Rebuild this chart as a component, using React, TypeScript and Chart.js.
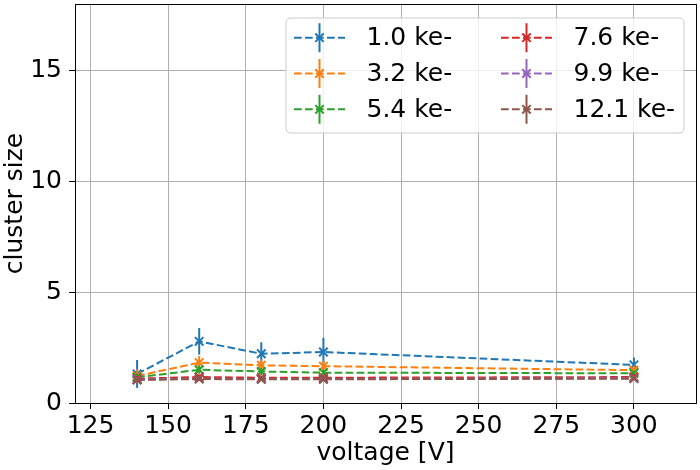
import React, { useEffect, useRef } from "react";
import { Chart, registerables } from "chart.js";

Chart.register(...registerables);

const voltages = [140, 160, 180, 200, 300];
const seriesLabels = ["1.0 ke-", "3.2 ke-", "5.4 ke-", "7.6 ke-", "9.9 ke-", "12.1 ke-"];
const seriesColors = ["#1f77b4", "#ff7f0e", "#2ca02c", "#d62728", "#9467bd", "#8c564b"];

const size10 = [1.31, 2.78, 2.22, 2.3, 1.72];
const size32 = [1.22, 1.82, 1.7, 1.66, 1.48];
const size54 = [1.16, 1.5, 1.42, 1.37, 1.34];
const size76 = [1.1, 1.17, 1.14, 1.14, 1.17];
const size99 = [1.06, 1.1, 1.08, 1.08, 1.12];
const size121 = [1.04, 1.08, 1.07, 1.07, 1.1];

const err10 = [0.63, 0.6, 0.52, 0.64, 0.33];
const err32 = [0.3, 0.3, 0.26, 0.25, 0.2];
const err54 = [0.18, 0.18, 0.16, 0.15, 0.12];
const err76 = [0.12, 0.12, 0.1, 0.1, 0.1];
const err99 = [0.08, 0.08, 0.08, 0.08, 0.08];
const err121 = [0.07, 0.07, 0.07, 0.07, 0.07];

const seriesValues = [size10, size32, size54, size76, size99, size121];
const seriesErrors = [err10, err32, err54, err76, err99, err121];

const xTicks = [125, 150, 175, 200, 225, 250, 275, 300];
const yTicks = [0, 5, 10, 15];
const xLimits = [120, 320];
const yLimits = [0, 18];

const FONT = "'DejaVu Sans', sans-serif";
const FS = 25;
const DASH = [7.7, 3.3];

const errorBarPlugin = {
  id: "errorBars",
  afterDatasetDraw(chart: any, args: any) {
    const idx = args.index;
    const meta = args.meta;
    const ctx = chart.ctx;
    const yScale = chart.scales.y;
    const vals = seriesValues[idx];
    const errs = seriesErrors[idx];
    ctx.save();
    ctx.strokeStyle = seriesColors[idx];
    ctx.lineWidth = 2;
    ctx.setLineDash([]);
    meta.data.forEach((pt: any, i: number) => {
      const y1 = yScale.getPixelForValue(vals[i] + errs[i]);
      const y2 = yScale.getPixelForValue(vals[i] - errs[i]);
      ctx.beginPath();
      ctx.moveTo(pt.x, y1);
      ctx.lineTo(pt.x, y2);
      ctx.stroke();
    });
    ctx.restore();
  },
};

const framePlugin = {
  id: "frameAndLegend",
  afterDraw(chart: any) {
    const ctx = chart.ctx;
    const a = chart.chartArea;
    ctx.save();
    ctx.strokeStyle = "#000";
    ctx.lineWidth = 1;
    ctx.setLineDash([]);
    ctx.strokeRect(Math.round(a.left) + 0.5, Math.round(a.top) + 0.5, Math.round(a.right - a.left), Math.round(a.bottom - a.top));

    // legend
    const bx = 286, by = 18, bw = 398, bh = 115, r = 5;
    ctx.beginPath();
    ctx.moveTo(bx + r, by);
    ctx.lineTo(bx + bw - r, by);
    ctx.quadraticCurveTo(bx + bw, by, bx + bw, by + r);
    ctx.lineTo(bx + bw, by + bh - r);
    ctx.quadraticCurveTo(bx + bw, by + bh, bx + bw - r, by + bh);
    ctx.lineTo(bx + r, by + bh);
    ctx.quadraticCurveTo(bx, by + bh, bx, by + bh - r);
    ctx.lineTo(bx, by + r);
    ctx.quadraticCurveTo(bx, by, bx + r, by);
    ctx.closePath();
    ctx.fillStyle = "rgba(255,255,255,0.8)";
    ctx.fill();
    ctx.strokeStyle = "#cccccc";
    ctx.stroke();

    const colX = [294, 501];
    const rowY = [37.7, 73.5, 109.3];
    ctx.font = FS + "px " + FONT;
    ctx.textBaseline = "middle";
    ctx.textAlign = "left";
    seriesLabels.forEach((label, i) => {
      const col = Math.floor(i / 3);
      const row = i % 3;
      const x0 = colX[col];
      const y = rowY[row];
      const color = seriesColors[i];
      ctx.strokeStyle = color;
      ctx.lineWidth = 2;
      ctx.setLineDash(DASH);
      ctx.beginPath();
      ctx.moveTo(x0, y);
      ctx.lineTo(x0 + 51, y);
      ctx.stroke();
      ctx.setLineDash([]);
      const mx = x0 + 25.5;
      ctx.beginPath();
      ctx.moveTo(mx, y - 14.5);
      ctx.lineTo(mx, y + 14.5);
      ctx.stroke();
      const m = 4.2;
      ctx.beginPath();
      ctx.moveTo(mx - m, y - m);
      ctx.lineTo(mx + m, y + m);
      ctx.moveTo(mx - m, y + m);
      ctx.lineTo(mx + m, y - m);
      ctx.stroke();
      ctx.fillStyle = "#000";
      ctx.fillText(label, x0 + 72.5, y + 1);
    });
    ctx.restore();
  },
};

export default function App() {
  const ref = useRef<HTMLCanvasElement>(null);
  useEffect(() => {
    if (!ref.current) return;
    const datasets = seriesLabels.map((label, i) => ({
      label,
      data: voltages.map((v, j) => ({ x: v, y: seriesValues[i][j] })),
      borderColor: seriesColors[i],
      backgroundColor: seriesColors[i],
      borderWidth: 2,
      borderDash: DASH,
      pointStyle: "crossRot" as const,
      pointRadius: 6,
      pointBorderWidth: 2,
      pointBorderColor: seriesColors[i],
      fill: false,
      tension: 0,
      order: seriesLabels.length - i,
    }));
    const chart = new Chart(ref.current, {
      type: "line",
      data: { datasets },
      options: {
        animation: false,
        responsive: false,
        devicePixelRatio: 1,
        layout: { autoPadding: false, padding: { left: 0, right: 4, top: 4, bottom: 0 } },
        plugins: { legend: { display: false }, tooltip: { enabled: false } },
        scales: {
          x: {
            type: "linear",
            min: xLimits[0],
            max: xLimits[1],
            afterBuildTicks: (s: any) => {
              s.ticks = xTicks.map((v) => ({ value: v }));
            },
            afterFit: (s: any) => {
              s.height = 67;
              s.paddingLeft = 0;
              s.paddingRight = 0;
            },
            grid: { color: "#b0b0b0", lineWidth: 1, tickLength: 6, tickColor: "#000", tickWidth: 1 },
            border: { display: false },
            ticks: { font: { family: FONT, size: FS }, color: "#000", padding: 2, maxRotation: 0, autoSkip: false },
            title: { display: true, text: "voltage [V]", font: { family: FONT, size: FS }, color: "#000", padding: { top: 0, bottom: 2 } },
          },
          y: {
            type: "linear",
            min: yLimits[0],
            max: yLimits[1],
            afterBuildTicks: (s: any) => {
              s.ticks = yTicks.map((v) => ({ value: v }));
            },
            afterFit: (s: any) => {
              s.width = 75;
              s.paddingTop = 0;
              s.paddingBottom = 0;
            },
            grid: { color: "#b0b0b0", lineWidth: 1, tickLength: 6, tickColor: "#000", tickWidth: 1 },
            border: { display: false },
            ticks: { font: { family: FONT, size: FS }, color: "#000", padding: 7, autoSkip: false },
            title: { display: true, text: "cluster size", font: { family: FONT, size: FS }, color: "#000", padding: { top: 0, bottom: 0 } },
          },
        },
      },
      plugins: [errorBarPlugin, framePlugin],
    });
    return () => chart.destroy();
  }, []);
  return (
    <div style={{ position: "absolute", left: 0, top: 0, width: 700, height: 470, background: "#fff" }}>
      <canvas ref={ref} width={700} height={470} style={{ width: 700, height: 470, display: "block" }} />
    </div>
  );
}
